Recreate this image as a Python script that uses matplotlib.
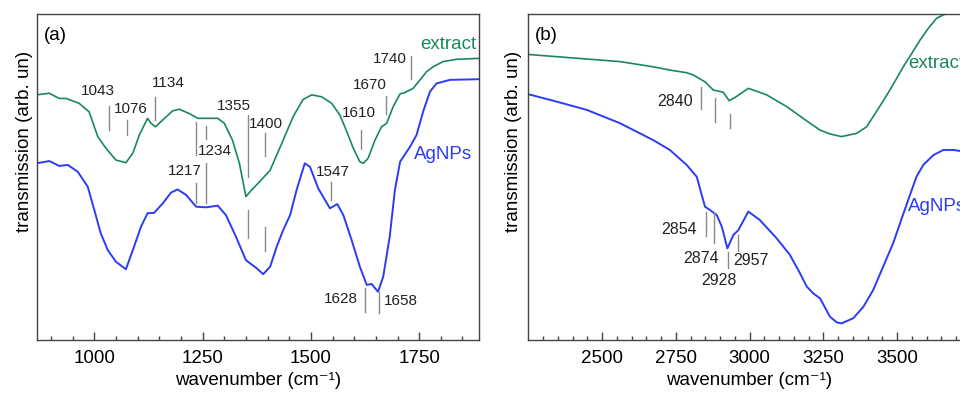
import numpy as np
import matplotlib.pyplot as plt

plt.rcParams['font.family'] = ['Liberation Sans', 'DejaVu Sans']

# (a) 900-1900 cm-1 region
wn_a_ext = [867, 896, 919, 935, 965, 988, 1008, 1027, 1050, 1073, 1089, 1104, 1123, 1131, 1141,
            1158, 1181, 1196, 1219, 1239, 1262, 1285, 1300, 1319, 1335, 1350, 1363, 1382, 1406,
            1436, 1459, 1482, 1502, 1525, 1548, 1567, 1583, 1598, 1613, 1621, 1632, 1648, 1663,
            1675, 1690, 1706, 1717, 1736, 1752, 1767, 1782, 1805, 1836, 1888]
tr_a_ext = [75.2, 75.7, 74.1, 74.1, 72.6, 70.0, 62.4, 58.8, 55.2, 54.4, 57.3, 62.9, 68.0, 66.5, 65.4,
            67.5, 70.3, 70.8, 69.5, 68.0, 68.0, 68.0, 66.5, 61.3, 54.2, 44.0, 46.0, 48.6, 52.1,
            61.3, 68.5, 73.8, 75.2, 74.6, 72.6, 69.0, 63.9, 58.8, 54.7, 54.2, 55.7, 61.3, 65.4,
            66.5, 71.6, 75.5, 75.9, 77.2, 79.8, 82.3, 83.8, 85.4, 86.1, 86.4]
wn_a_ag = [867, 896, 919, 939, 962, 985, 1000, 1015, 1031, 1050, 1073, 1089, 1108, 1123, 1138,
           1158, 1177, 1192, 1212, 1235, 1258, 1285, 1304, 1327, 1350, 1375, 1390, 1406, 1421,
           1436, 1452, 1467, 1486, 1498, 1517, 1544, 1561, 1575, 1594, 1613, 1629, 1640, 1655,
           1667, 1682, 1694, 1706, 1729, 1744, 1759, 1775, 1790, 1821, 1888]
tr_a_ag = [54.2, 54.9, 53.4, 53.7, 51.6, 47.0, 39.9, 32.7, 27.6, 24.0, 21.7, 27.6, 34.8, 38.9, 39.0,
           41.9, 45.2, 46.2, 44.5, 40.9, 40.7, 41.2, 38.3, 31.7, 24.5, 22.0, 20.2, 22.5, 28.6,
           33.7, 38.3, 46.0, 54.2, 53.1, 46.5, 40.4, 41.7, 38.3, 30.7, 22.5, 16.9, 17.2, 14.8,
           19.4, 31.7, 46.0, 54.7, 59.3, 62.9, 70.0, 76.2, 78.7, 79.8, 80.0]

# (b) 2250-3750 cm-1 region
wn_b_ext = [2250, 2391, 2561, 2674, 2730, 2787, 2809, 2849, 2877, 2911, 2931, 2951, 2996, 3058,
            3126, 3205, 3239, 3273, 3312, 3363, 3397, 3419, 3448, 3476, 3499, 3521, 3550, 3578,
            3606, 3634, 3668, 3710, 3750]
tr_b_ext = [87.6, 86.6, 85.4, 83.8, 82.8, 82.0, 81.3, 79.2, 76.7, 76.0, 73.4, 74.4, 77.2, 75.2,
            71.6, 66.5, 64.4, 63.2, 62.4, 63.4, 65.4, 68.5, 72.6, 76.7, 80.3, 83.8, 87.9, 92.0,
            95.6, 98.7, 100.2, 101.0, 101.5]
wn_b_ag = [2250, 2335, 2448, 2561, 2674, 2730, 2787, 2821, 2838, 2849, 2866, 2889, 2906, 2925,
           2945, 2962, 2996, 3035, 3092, 3137, 3171, 3194, 3216, 3239, 3273, 3296, 3312, 3352,
           3386, 3419, 3453, 3487, 3516, 3544, 3566, 3589, 3623, 3657, 3691, 3750]
tr_b_ag = [75.4, 73.4, 70.6, 66.5, 61.3, 58.3, 53.7, 50.1, 44.5, 40.9, 39.9, 38.3, 34.8, 28.1,
           32.2, 33.7, 39.4, 36.8, 31.2, 26.1, 20.5, 16.4, 14.3, 12.8, 7.1, 5.4, 5.1, 6.7,
           10.2, 15.3, 22.5, 29.7, 37.3, 44.5, 50.1, 53.7, 56.7, 58.3, 58.3, 57.5]

# band labels: (text, mark x, mark y0, mark y1, text x, text y, ha)
bands_a = [
    ('1043', 1033, 64.4, 71.8, 1009, 76.4, 'center'),
    ('1076', 1075, 62.9, 67.5, 1085, 71.0, 'center'),
    ('1134', 1140, 67.5, 74.6, 1171, 78.8, 'center'),
    ('1217', 1234, 56.7, 67.0, 1209, 51.8, 'center'),
    ('1234', 1259, 61.6, 65.6, 1278, 58.0, 'center'),
    ('1355', 1355, 50.1, 69.0, 1322, 71.8, 'center'),
    ('1400', 1395, 56.4, 63.4, 1397, 66.2, 'center'),
    ('1547', 1546, 43.0, 48.6, 1551, 51.4, 'center'),
    ('1610', 1615, 58.6, 64.4, 1610, 69.7, 'center'),
    ('1628', 1625, 8.7, 15.9, 1570, 12.6, 'center'),
    ('1658', 1657, 8.2, 14.8, 1708, 12.0, 'center'),
    ('1670', 1673, 69.2, 74.9, 1635, 78.3, 'center'),
    ('1740', 1731, 80.0, 87.1, 1682, 86.1, 'center'),
]
# extra marks on the AgNPs trace in (a): (x, y0, y1)
marks_a = [(1234, 41.9, 48.1), (1258, 41.9, 54.2), (1355, 31.2, 39.9), (1395, 27.3, 34.6)]

bands_b = [
    ('2840', 2834, 70.8, 77.7, 2808, 73.3, 'right'),
    ('2854', 2851, 31.9, 39.4, 2821, 33.9, 'right'),
    ('2874', 2880, 29.7, 39.4, 2835, 25.0, 'center'),
    ('2928', 2928, 22.2, 26.9, 2898, 18.3, 'center'),
    ('2957', 2962, 27.4, 32.2, 3004, 24.4, 'center'),
]
marks_b = [(2883, 67.0, 74.1), (2933, 64.9, 69.3)]

green = '#17895b'
blue = '#2b3cf6'
grey = '#8a8a8a'

fig = plt.figure(figsize=(9.6, 3.96), dpi=100)
ax1 = fig.add_axes([0.0382, 0.1414, 0.4607, 0.8232])
ax2 = fig.add_axes([0.5503, 0.1414, 0.4609, 0.8232])

ax1.plot(wn_a_ext, tr_a_ext, color=green, lw=1.2)
ax1.plot(wn_a_ag, tr_a_ag, color=blue, lw=1.4)
ax2.plot(wn_b_ext, tr_b_ext, color=green, lw=1.2)
ax2.plot(wn_b_ag, tr_b_ag, color=blue, lw=1.4)

for ax, bands, marks, fs in [(ax1, bands_a, marks_a, 11), (ax2, bands_b, marks_b, 11.5)]:
    for txt, mx, y0, y1, tx, ty, ha in bands:
        ax.plot([mx, mx], [y0, y1], color=grey, lw=1)
        ax.text(tx, ty, txt, fontsize=fs, ha=ha, va='center', color='#222222')
    for mx, y0, y1 in marks:
        ax.plot([mx, mx], [y0, y1], color=grey, lw=1)

ax1.text(1881, 90.8, 'extract', color=green, fontsize=13.5, ha='right', va='center')
ax1.text(1872, 57.0, 'AgNPs', color=blue, fontsize=13.5, ha='right', va='center')
ax2.text(3538, 84.7, 'extract', color=green, fontsize=13.5, ha='left', va='center')
ax2.text(3538, 41.0, 'AgNPs', color=blue, fontsize=13.5, ha='left', va='center')

ax1.set_xticks([1000, 1250, 1500, 1750])
ax1.set_xticks(np.arange(900, 1889, 50), minor=True)
ax2.set_xticks([2500, 2750, 3000, 3250, 3500])
ax2.set_xticks(np.arange(2300, 3750, 50), minor=True)
ax1.set_xlim(867, 1888)
ax2.set_xlim(2250, 3750)
for ax, lab, lx in [(ax1, '(a)', -0.008), (ax2, '(b)', -0.014)]:
    ax.set_ylim(0, 100)
    ax.set_yticks([])
    ax.tick_params(axis='x', which='major', direction='in', length=6, width=1,
                   labelsize=13.5, pad=7, color='#444444')
    ax.tick_params(axis='x', which='minor', direction='in', length=3, width=1, color='#444444')
    for s in ax.spines.values():
        s.set_color('#444444')
        s.set_linewidth(1)
    ax.set_xlabel('wavenumber (cm⁻¹)', fontsize=13.5, labelpad=4)
    ax.set_ylabel('transmission (arb. un)', fontsize=13.5)
    ax.yaxis.set_label_coords(lx, 0.61)
    ax.annotate(lab, xy=(0, 1), xycoords='axes fraction', xytext=(5, -9),
                textcoords='offset points', fontsize=13.5, ha='left', va='top')

fig.savefig('out.png', dpi=100)
